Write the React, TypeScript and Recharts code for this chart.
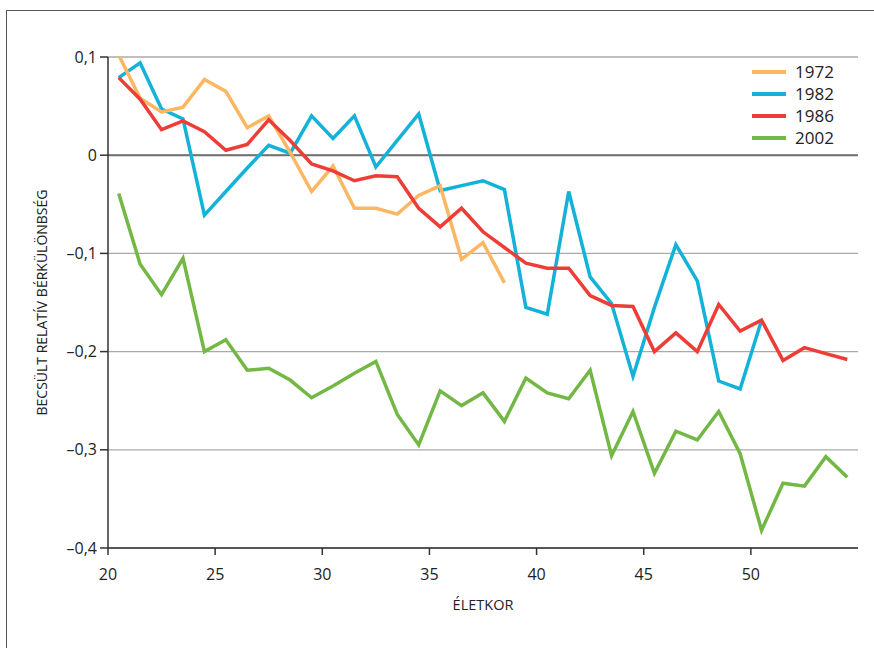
import { LineChart, Line, XAxis, YAxis, CartesianGrid, ReferenceLine } from 'recharts'

const ages = [
  20.5, 21.5, 22.5, 23.5, 24.5, 25.5, 26.5, 27.5, 28.5, 29.5, 30.5, 31.5,
  32.5, 33.5, 34.5, 35.5, 36.5, 37.5, 38.5, 39.5, 40.5, 41.5, 42.5, 43.5,
  44.5, 45.5, 46.5, 47.5, 48.5, 49.5, 50.5, 51.5, 52.5, 53.5, 54.5,
]

const y1972 = [
  0.102, 0.058, 0.044, 0.049, 0.077, 0.065, 0.028, 0.04, 0.003, -0.037,
  -0.011, -0.054, -0.054, -0.06, -0.041, -0.031, -0.106, -0.089, -0.13,
]

const y1982 = [
  0.079, 0.094, 0.047, 0.037, -0.061, -0.037, -0.013, 0.01, 0.002, 0.04,
  0.017, 0.04, -0.012, 0.015, 0.042, -0.036, -0.031, -0.026, -0.035, -0.155,
  -0.162, -0.037, -0.124, -0.151, -0.225, -0.155, -0.091, -0.128, -0.23, -0.238,
  -0.168,
]

const y1986 = [
  0.079, 0.057, 0.026, 0.035, 0.024, 0.005, 0.011, 0.036, 0.015, -0.009,
  -0.016, -0.026, -0.021, -0.022, -0.054, -0.073, -0.054, -0.078, -0.094, -0.11,
  -0.115, -0.115, -0.143, -0.153, -0.154, -0.2, -0.181, -0.2, -0.152, -0.179,
  -0.168, -0.209, -0.196, -0.202, -0.208,
]

const y2002 = [
  -0.039, -0.111, -0.142, -0.105, -0.2, -0.188, -0.219, -0.217, -0.229, -0.247,
  -0.235, -0.222, -0.21, -0.264, -0.295, -0.24, -0.255, -0.242, -0.271, -0.227,
  -0.242, -0.248, -0.219, -0.306, -0.261, -0.324, -0.281, -0.29, -0.261, -0.304,
  -0.382, -0.334, -0.337, -0.307, -0.328,
]

const xTicks = [20, 25, 30, 35, 40, 45, 50]
const yTicks = [-0.4, -0.3, -0.2, -0.1, 0, 0.1]

const series = [
  { key: '1982', values: y1982, color: '#13B2D8' },
  { key: '1972', values: y1972, color: '#FDB662' },
  { key: '1986', values: y1986, color: '#EE3D36' },
  { key: '2002', values: y2002, color: '#73B744' },
]
const legendOrder = ['1972', '1982', '1986', '2002']

const data = ages.map((age, i) => {
  const row: Record<string, number | null> = { age }
  series.forEach(s => {
    row[s.key] = i < s.values.length ? s.values[i] : null
  })
  return row
})

const font = '"Myriad Pro", "Open Sans", sans-serif'

const fmtY = (v: number) => {
  if (v === 0) return '0'
  return (v < 0 ? '\u2013' : '') + Math.abs(v).toFixed(1).replace('.', ',')
}

export default function App() {
  return (
    <div style={{ position: 'absolute', left: 0, top: 0, width: 874, height: 648, background: '#fff', fontFamily: font }}>
      <div
        style={{
          position: 'absolute',
          left: 6,
          top: 10,
          width: 868,
          height: 640,
          borderLeft: '1.5px solid #555',
          borderTop: '1.5px solid #555',
        }}
      />
      <LineChart
        width={874}
        height={648}
        data={data}
        margin={{ top: 57, right: 16, left: 0, bottom: 38 }}
        style={{ position: 'absolute', left: 0, top: 0 }}
      >
        <CartesianGrid vertical={false} stroke="#aaa" strokeWidth={1.3} />
        <ReferenceLine y={0} stroke="#707070" strokeWidth={2} />
        <XAxis
          dataKey="age"
          type="number"
          domain={[20, 55]}
          ticks={xTicks}
          height={62}
          stroke="#333"
          strokeWidth={1.5}
          tickSize={7}
          tickMargin={14}
          tick={{ fill: '#222', fontSize: 16, fontFamily: font }}
          label={{ value: 'ÉLETKOR', position: 'insideBottom', offset: 0, fill: '#222', fontSize: 14.5, fontFamily: font }}
        />
        <YAxis
          type="number"
          domain={[-0.4, 0.1]}
          allowDataOverflow
          ticks={yTicks}
          width={108}
          stroke="#333"
          strokeWidth={1.5}
          tickSize={8}
          tickMargin={3}
          tickFormatter={fmtY}
          tick={{ fill: '#222', fontSize: 16, fontFamily: font }}
          label={{
            value: 'BECSÜLT RELATÍV BÉRKÜLÖNBSÉG',
            angle: -90,
            position: 'insideLeft',
            offset: 42,
            fill: '#222',
            fontSize: 14,
            fontFamily: font,
            style: { textAnchor: 'middle' },
          }}
        />
        {series.map(s => (
          <Line
            key={s.key}
            dataKey={s.key}
            stroke={s.color}
            strokeWidth={3.5}
            dot={false}
            activeDot={false}
            connectNulls={false}
            isAnimationActive={false}
          />
        ))}
      </LineChart>
      <div style={{ position: 'absolute', left: 752, top: 61 }}>
        {legendOrder.map(k => {
          const s = series.find(x => x.key === k)!
          return (
            <div key={k} style={{ display: 'flex', alignItems: 'center', height: 22 }}>
              <div style={{ width: 34, height: 4, background: s.color, marginRight: 9 }} />
              <span style={{ fontSize: 17, color: '#222', lineHeight: '22px' }}>{k}</span>
            </div>
          )
        })}
      </div>
    </div>
  )
}
